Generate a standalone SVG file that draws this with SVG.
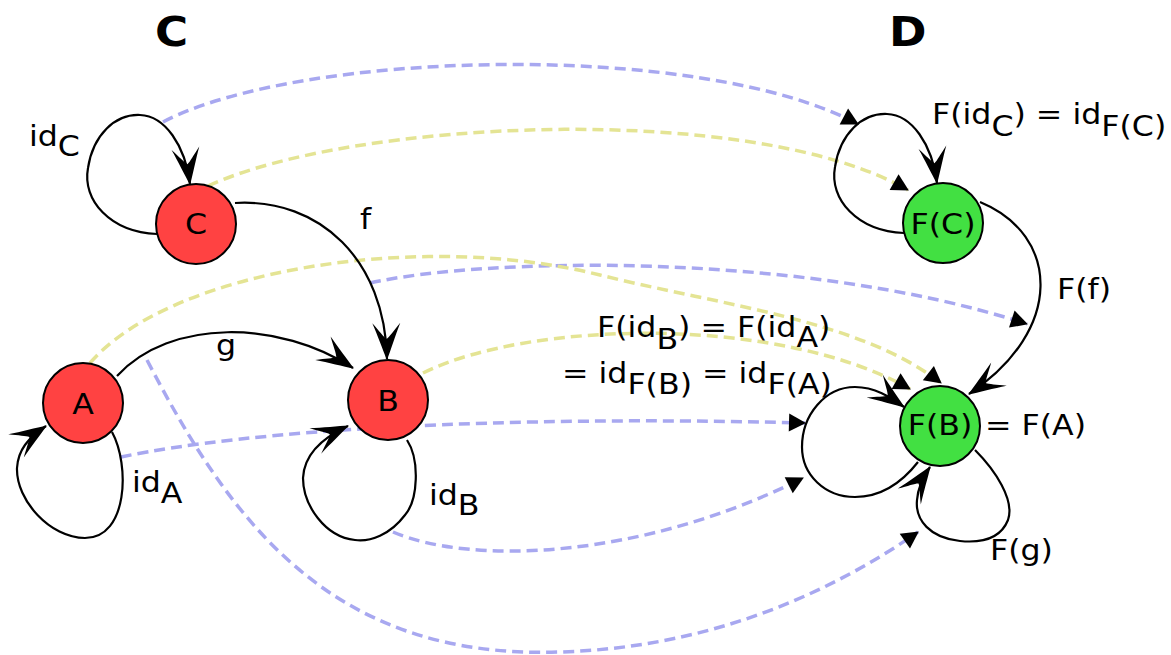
<svg xmlns="http://www.w3.org/2000/svg" width="1171" height="655" viewBox="0 0 1171 655">
<style>
text{font-family:"DejaVu Sans","Bitstream Vera Sans",sans-serif;font-size:28px;fill:#000}
.title{font-weight:bold;font-size:40px}
.nl{text-anchor:middle}
.node circle{stroke:#000;stroke-width:2}
.red circle{fill:#ff4242}
.green circle{fill:#42e042}
.edge{fill:none;stroke:#000;stroke-width:2.2;marker-end:url(#arrow)}
.map{fill:none;stroke-width:3.5;stroke-dasharray:11 6;marker-end:url(#tri)}
.blue{stroke:#a8a8f0}
.yellow{stroke:#e4e494}
</style>
<defs>
<marker id="arrow" markerUnits="userSpaceOnUse" viewBox="-40 -16 42 32" markerWidth="42" markerHeight="32" refX="0" refY="0" orient="auto" overflow="visible">
<path d="M1,0 C-9,-4 -24,-9 -36,-14 C-28,-7 -22,-3 -20,0 C-22,3 -28,7 -36,14 C-24,9 -9,4 1,0 Z" fill="#000"/>
</marker>
<marker id="tri" markerUnits="userSpaceOnUse" viewBox="-18 -10 20 20" markerWidth="20" markerHeight="20" refX="0" refY="0" orient="auto" overflow="visible">
<path d="M1,0 L-16,-9 L-16,9 Z" fill="#000"/>
</marker>
</defs>
<rect width="1171" height="655" fill="#fff"/>

<g id="titles">
<text class="title" transform="translate(155,46) scale(1.13,1)">C</text>
<text class="title" transform="translate(889,46) scale(1.13,1)">D</text>
</g>

<g id="connectors">
<!-- functor mapping (dashed) -->
<path class="map blue" d="M163 122 C300 50, 700 40, 858 124"/>
<path class="map yellow" d="M208 186 C350 120, 750 100, 908 190"/>
<path class="map blue" d="M370 283 C480 258, 800 250, 1027 324"/>
<path class="map yellow" d="M90 363 C170 270, 420 230, 600 275 C720 305, 860 320, 941 383"/>
<path class="map yellow" d="M423 373 C530 320, 780 315, 910 389"/>
<path class="map blue" d="M121 457 C250 430, 500 415, 805 423"/>
<path class="map blue" d="M393 532 C470 565, 640 560, 803 478"/>
<path class="map blue" d="M147 360 C230 520, 330 660, 560 652 C700 648, 820 600, 918 532"/>

<!-- category C edges -->
<g id="edge-idC">
<path class="edge" d="M157 234 C110 232, 82 200, 88 168 C93 135, 115 114, 140 115 C165 116, 185 145, 190 184"/>
<text transform="translate(29,146) scale(1.13,1)">id<tspan dy="10">C</tspan></text>
</g>
<g id="edge-f">
<path class="edge" d="M235 203 C320 198, 385 260, 387 359"/>
<text transform="translate(360,229) scale(1.13,1)">f</text>
</g>
<g id="edge-g">
<path class="edge" d="M117 376 C170 318, 280 320, 353 368"/>
<text transform="translate(216,355) scale(1.13,1)">g</text>
</g>
<g id="edge-idA">
<path class="edge" d="M112 432 C130 465, 128 538, 85 538 C50 538, 16 500, 17 468 C18 450, 28 438, 46 426"/>
<text transform="translate(132,492) scale(1.13,1)">id<tspan dy="11">A</tspan></text>
</g>
<g id="edge-idB">
<path class="edge" d="M407 440 C420 460, 418 500, 405 515 C390 535, 370 542, 355 540 C325 537, 303 505, 303 478 C304 455, 322 438, 348 426"/>
<text transform="translate(429,505) scale(1.13,1)">id<tspan dy="10">B</tspan></text>
</g>

<!-- category D edges -->
<g id="edge-FidC">
<path class="edge" d="M904 233 C857 231, 829 199, 835 167 C840 134, 862 113, 887 114 C912 115, 932 144, 937 183"/>
<text transform="translate(932,124) scale(1.13,1)">F(id<tspan dy="12">C</tspan><tspan dy="-12">) = id</tspan><tspan dy="12">F(C)</tspan></text>
</g>
<g id="edge-Ff">
<path class="edge" d="M980 202 C1060 235, 1065 330, 969 394"/>
<text transform="translate(1057,299) scale(1.13,1)">F(f)</text>
</g>
<g id="edge-FidB">
<path class="edge" d="M918 462 C900 485, 880 497, 855 497 C825 497, 802 475, 802 447 C802 415, 825 387, 855 387 C875 387, 890 397, 904 407"/>
<text transform="translate(597,337) scale(1.13,1)">F(id<tspan dy="12">B</tspan><tspan dy="-12">) = F(id</tspan><tspan dy="10">A</tspan><tspan dy="-10">)</tspan></text>
<text transform="translate(562,383) scale(1.13,1)">= id<tspan dy="11">F(B)</tspan><tspan dy="-11"> = id</tspan><tspan dy="11">F(A)</tspan></text>
</g>
<g id="edge-Fg">
<path class="edge" d="M975 450 C995 470, 1015 500, 1008 520 C1000 540, 980 543, 960 541 C930 538, 915 520, 917 500 C918 487, 923 477, 930 467"/>
<text transform="translate(990,560) scale(1.13,1)">F(g)</text>
</g>
</g>

<g id="node-C" class="node red">
<circle cx="196" cy="224" r="40"/>
<text class="nl" transform="translate(196,234) scale(1.13,1)">C</text>
</g>
<g id="node-A" class="node red">
<circle cx="83" cy="403" r="40"/>
<text class="nl" transform="translate(83,414) scale(1.13,1)">A</text>
</g>
<g id="node-B" class="node red">
<circle cx="388" cy="400" r="40"/>
<text class="nl" transform="translate(388,411) scale(1.13,1)">B</text>
</g>
<g id="node-FC" class="node green">
<circle cx="943" cy="223" r="40"/>
<text class="nl" transform="translate(943,234) scale(1.13,1)">F(C)</text>
</g>
<g id="node-FB" class="node green">
<circle cx="940" cy="426" r="40"/>
<text class="nl" transform="translate(940,435) scale(1.13,1)">F(B)</text>
</g>
<g id="label-FB-eq">
<text transform="translate(985,435) scale(1.13,1)">= F(A)</text>
</g>
</svg>
